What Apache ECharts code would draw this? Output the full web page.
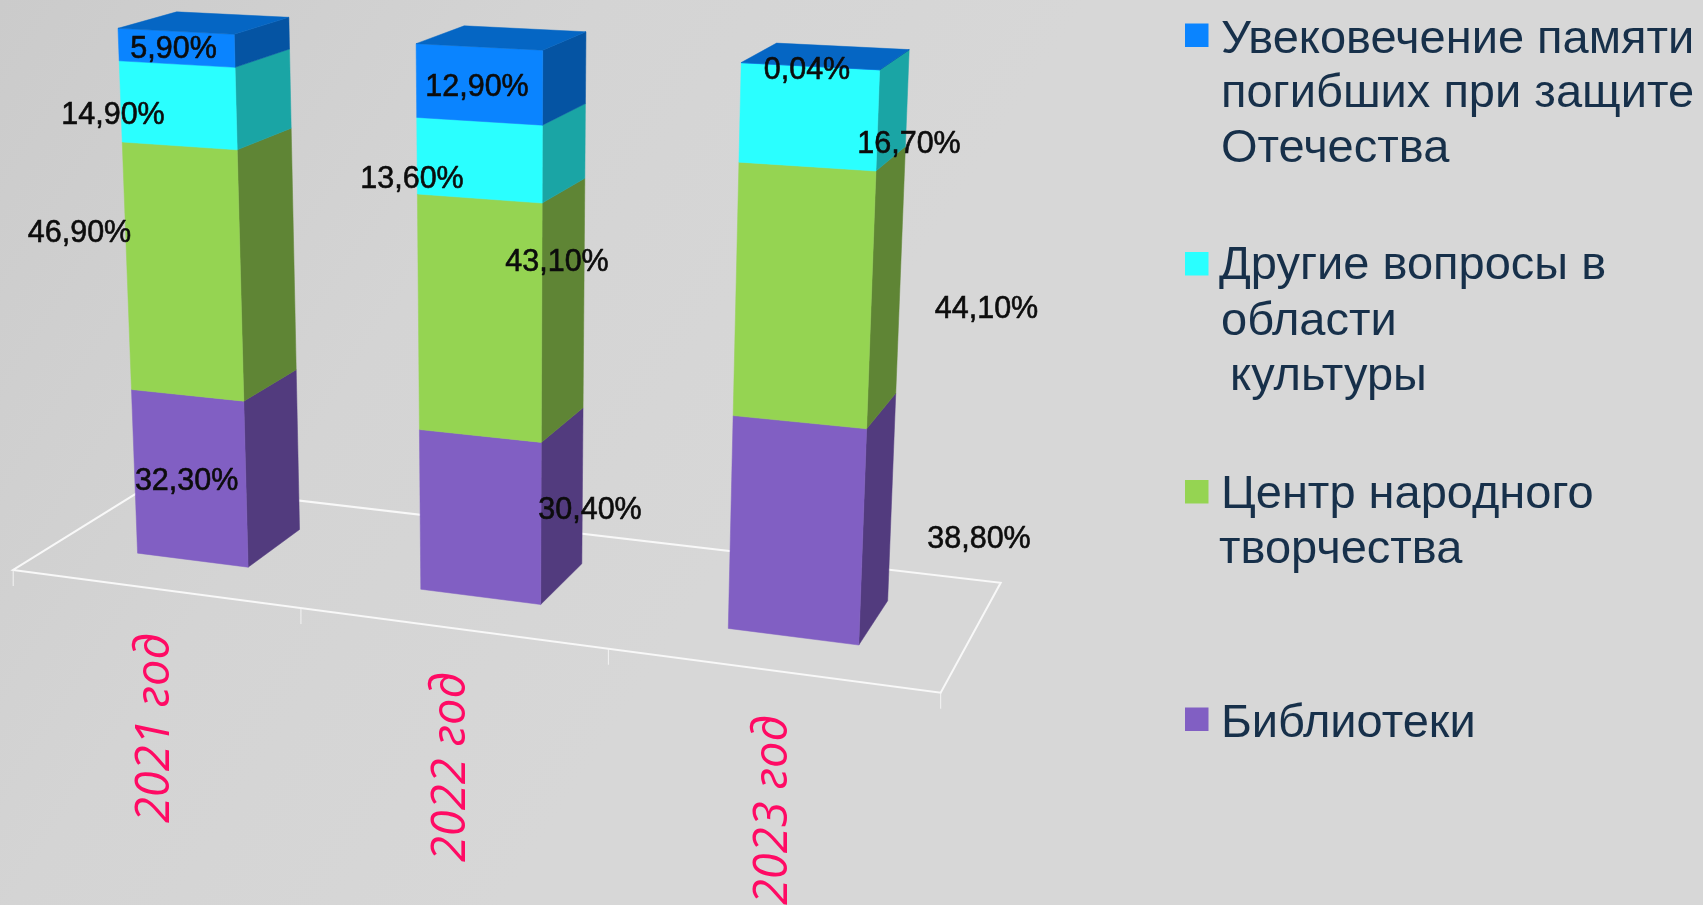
<!DOCTYPE html>
<html><head><meta charset="utf-8">
<style>html,body{margin:0;padding:0;background:#d7d7d7;overflow:hidden}#c{width:1703px;height:905px}</style>
<script src="https://cdn.jsdelivr.net/npm/echarts@6/dist/echarts.min.js"></script></head>
<body><div id="c"></div>
<script>
// ---- data ----
const categories=['2021 год','2022 год','2023 год'];
const libraries=[32.3,30.4,38.8];
const folkCentre=[46.9,43.1,44.1];
const otherCulture=[14.9,13.6,16.7];
const memorial=[5.9,12.9,0.04];
const seriesNames=['Библиотеки','Центр народного творчества','Другие вопросы в области культуры','Увековечение памяти погибших при защите Отечества'];
const layers=[libraries,folkCentre,otherCulture,memorial];

// ---- styles and layout ----
const faceColors=[
 {front:'#815FC3',side:'#523B7E'},
 {front:'#95D452',side:'#5F8535'},
 {front:'#2AFFFF',side:'#1AA5A5'},
 {front:'#0A84FF',side:'#0554A3',top:'#0566C4'}];
const labelPlaces=[
 [[186.6,482],[590,511],[979,540]],
 [[79.5,234],[557,263],[986.5,310]],
 [[113,116],[412,179.5],[909,145]],
 [[173.6,49.5],[477,87.5],[807,71]]];
const categoryPlaces=[[156,728],[452,767],[774,810]];
const legendRows=[
 {name:3,y:23.5,lines:[['Увековечение памяти',1221,54],['погибших при защите',1221,108],['Отечества',1221,163]]},
 {name:2,y:252,lines:[['Другие вопросы в',1219,280],['области',1221,336],[' культуры',1217,390.5]]},
 {name:1,y:480,lines:[['Центр народного',1221,509],['творчества',1219,564]]},
 {name:0,y:707.5,lines:[['Библиотеки',1221,738]]}];
const BAR_RATIO=0.4, DEPTH=[0.293,0.707];
const TICK_NUDGE=[0,0.005,0.004,0];

// ---- perspective camera: floor quad -> homography, vertical vanishing point ----
function solve(A,b){const n=b.length;const M=A.map((r,i)=>[...r,b[i]]);
 for(let i=0;i<n;i++){let p=i;for(let r=i+1;r<n;r++)if(Math.abs(M[r][i])>Math.abs(M[p][i]))p=r;[M[i],M[p]]=[M[p],M[i]];
  for(let r=0;r<n;r++){if(r===i)continue;const f=M[r][i]/M[i][i];for(let c=i;c<=n;c++)M[r][c]-=f*M[i][c];}}
 return M.map((r,i)=>r[n]/r[i]);}
const floorQuad=[[13.2,570],[940.7,692.7],[1000.7,582.7],[152.6,483.4]];
const A=[],B=[];
[[0,0],[1,0],[1,1],[0,1]].forEach((u,i)=>{const [x,y]=floorQuad[i];
 A.push([u[0],u[1],1,0,0,0,-u[0]*x,-u[1]*x]);B.push(x);A.push([0,0,0,u[0],u[1],1,-u[0]*y,-u[1]*y]);B.push(y);});
const h=solve(A,B);
const VP=[505,10400];
const calW=h[6]*0.1+h[7]*0.293+1;
const LAMBDA=calW*(553.3-28.5)/(28.5-VP[1]);
function project(X,Y,Z){
 const w=h[6]*X+h[7]*Y+1, hx=h[0]*X+h[1]*Y+h[2], hy=h[3]*X+h[4]*Y+h[5], k=Z*LAMBDA;
 return [(hx+k*VP[0])/(w+k),(hy+k*VP[1])/(w+k)];
}
// map the library's axis coordinates to the unit box that the camera sees
function world(params,api,catIdx,val){
 const cs=params.coordSys, p=api.coord([catIdx,val]);
 return [(p[0]-cs.x)/cs.width,(cs.y+cs.height-p[1])/cs.height];
}
function poly(pts,fill){return {type:'polygon',shape:{points:pts},style:{fill:fill,stroke:fill,lineWidth:0.5}};}

function barItem(layer){return function(params,api){
 const i=api.value(0), lo=api.value(1), hi=api.value(2);
 const [cx,z0]=world(params,api,i,lo); const [,z1]=world(params,api,i,hi);
 const half=api.size([1,0])[0]*BAR_RATIO/2/params.coordSys.width;
 const x0=cx-half,x1=cx+half,[y0,y1]=DEPTH, c=faceColors[layer];
 const kids=[
  poly([project(x1,y0,z0),project(x1,y1,z0),project(x1,y1,z1),project(x1,y0,z1)],c.side),
  poly([project(x0,y0,z0),project(x1,y0,z0),project(x1,y0,z1),project(x0,y0,z1)],c.front)];
 if(c.top)kids.push(poly([project(x0,y0,z1),project(x1,y0,z1),project(x1,y1,z1),project(x0,y1,z1)],c.top));
 return {type:'group',children:kids};
};}
const barSeries=layers.map((vals,l)=>({
 type:'custom',name:seriesNames[l],coordinateSystem:'cartesian2d',clip:false,z:3,silent:true,
 encode:{x:0,y:[1,2]},
 data:vals.map((v,i)=>{let base=0;for(let k=0;k<l;k++)base+=layers[k][i];return [i,base,base+v];}),
 renderItem:barItem(l)}));
const fmt=v=>v.toFixed(2).replace('.',',')+'%';
const labelSeries={type:'custom',coordinateSystem:'cartesian2d',clip:false,z:6,silent:true,
 data:layers.flatMap((vals,l)=>vals.map((v,i)=>[i,v,l])),
 renderItem(params,api){const i=api.value(0),l=api.value(2),pos=labelPlaces[l][i];
  return {type:'text',x:pos[0],y:pos[1],style:{text:fmt(api.value(1)),font:'30.5px "Liberation Sans",Arial,sans-serif',fill:'#0c0c0c',stroke:'#0c0c0c',lineWidth:0.6,align:'center',verticalAlign:'middle'}};}};
const floorSeries={type:'custom',coordinateSystem:'cartesian2d',clip:false,z:1,silent:true,
 data:[[0,0]],
 renderItem(params,api){
  const q=[project(0,0,0),project(1,0,0),project(1,1,0),project(0,1,0)];
  const kids=[{type:'polygon',shape:{points:q},style:{fill:'none',stroke:'#f8f8f8',lineWidth:2}}];
  const cs=params.coordSys;
  for(let i=0;i<=categories.length;i++){
   const px=i<categories.length?api.coord([i,0])[0]-api.size([1,0])[0]/2:cs.x+cs.width;
   const p=project((px-cs.x)/cs.width+TICK_NUDGE[i],0,0);
   kids.push({type:'line',shape:{x1:p[0],y1:p[1],x2:p[0],y2:p[1]+16},style:{stroke:'#f4f4f4',lineWidth:1}});
  }
  return {type:'group',children:kids};
 }};
const catSeries={type:'custom',coordinateSystem:'cartesian2d',clip:false,z:4,silent:true,
 data:categories.map((c,i)=>[i,0]),
 renderItem(params,api){const i=api.value(0),pos=categoryPlaces[i];
  return {type:'text',x:pos[0],y:pos[1],rotation:Math.PI/2,style:{text:categories[i],font:'italic 47px "Open Sans","Liberation Sans",sans-serif',fill:'#FF0A64',align:'center',verticalAlign:'middle'}};}};

const legendGraphic=legendRows.flatMap(r=>[
 {type:'rect',shape:{x:1185,y:r.y,width:23.5,height:23.5},style:{fill:faceColors[r.name].front}},
 ...r.lines.map(t=>({type:'text',x:t[1],y:t[2]+10,style:{text:t[0],font:'47px "Liberation Sans",Arial,sans-serif',fill:'#17304A',verticalAlign:'bottom'}}))
]);

const chart=echarts.init(document.getElementById('c'),null,{renderer:'canvas'});
chart.setOption({
 animation:false,
 backgroundColor:{type:'linear',x:0,y:0,x2:0.45,y2:0.55,colorStops:[{offset:0,color:'#cbcbcb'},{offset:0.55,color:'#d4d4d4'},{offset:1,color:'#d7d7d7'}]},
 grid:{left:0,right:0,top:0,bottom:0},
 xAxis:{type:'category',data:categories,show:false},
 yAxis:{type:'value',min:0,max:100,show:false},
 graphic:legendGraphic,
 series:[floorSeries,...barSeries,catSeries,labelSeries]
});
</script></body></html>
